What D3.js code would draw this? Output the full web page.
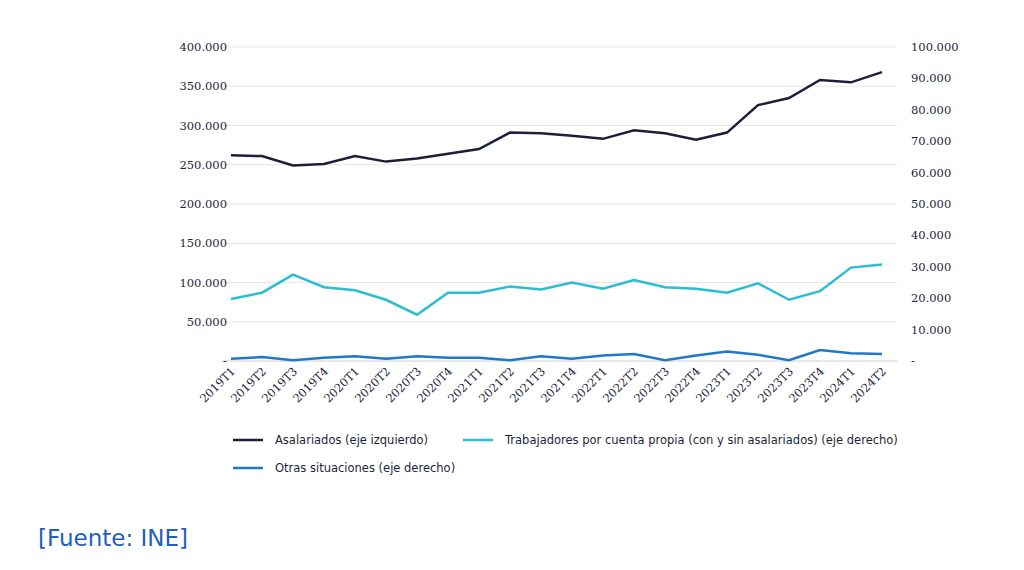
<!DOCTYPE html>
<html lang="es">
<head>
<meta charset="UTF-8">
<title>Ocupados</title>
<script src="https://cdn.jsdelivr.net/npm/d3@7"></script>
<style>
  body { margin: 0; background: #fff; font-family: "Liberation Serif", serif; }
  .lab { font-family: "DejaVu Serif", serif; font-size: 11.5px; fill: #1b1f3b; }
  .leg { font-family: "DejaVu Sans", sans-serif; font-size: 11.5px; fill: #1b1f3b; }
</style>
</head>
<body>
<svg id="c" width="1024" height="570"></svg>
<script>
var periods = ['2019T1','2019T2','2019T3','2019T4','2020T1','2020T2','2020T3','2020T4','2021T1','2021T2','2021T3','2021T4','2022T1','2022T2','2022T3','2022T4','2023T1','2023T2','2023T3','2023T4','2024T1','2024T2'];
// eje izquierdo
var asalariados = [262000,261000,249000,251000,261000,254000,258000,264000,270000,291000,290000,287000,283000,294000,290000,282000,291000,326000,335000,358000,355000,368000];
// eje derecho
var cuentaPropia = [19750,21750,27500,23500,22500,19500,14750,21750,21750,23750,22750,25000,23000,25750,23500,23000,21750,24750,19500,22250,29750,30750];
var otras = [750,1250,250,1000,1500,750,1500,1000,1000,250,1500,750,1750,2250,250,1750,3000,2000,250,3500,2500,2250];
var leftTicks = [0,50000,100000,150000,200000,250000,300000,350000,400000];
var rightTicks = [0,10000,20000,30000,40000,50000,60000,70000,80000,90000,100000];

var svg = d3.select('#c');
var x = d3.scalePoint().domain(periods).range([231, 882]);
var yL = d3.scaleLinear().domain([0, 400000]).range([361, 47]);
var yR = d3.scaleLinear().domain([0, 100000]).range([361, 47]);
var fmt = function (v) { return v === 0 ? '-' : d3.format(',')(v).replace(/,/g, '.'); };

svg.append('g').selectAll('line').data(leftTicks.slice(1)).join('line')
  .attr('x1', 222).attr('x2', 897)
  .attr('y1', function (d) { return yL(d); }).attr('y2', function (d) { return yL(d); })
  .attr('stroke', '#e6e6e6');
svg.append('line').attr('x1', 222).attr('x2', 897).attr('y1', yL(0)).attr('y2', yL(0)).attr('stroke', '#d0d0d0');

svg.append('g').selectAll('text').data(leftTicks).join('text').attr('class', 'lab')
  .attr('x', 227).attr('y', function (d) { return yL(d) + 4; }).attr('text-anchor', 'end').text(fmt);
svg.append('g').selectAll('text').data(rightTicks).join('text').attr('class', 'lab')
  .attr('x', 911).attr('y', function (d) { return yR(d) + 4; }).text(fmt);

svg.append('g').selectAll('text').data(periods).join('text').attr('class', 'lab')
  .attr('text-anchor', 'end')
  .attr('transform', function (d) { return 'translate(' + (x(d) + 5) + ',372) rotate(-45)'; })
  .text(function (d) { return d; });

function draw(vals, y, color) {
  svg.append('path').datum(vals)
    .attr('fill', 'none').attr('stroke', color).attr('stroke-width', 2.5)
    .attr('d', d3.line().x(function (d, i) { return x(periods[i]); }).y(function (d) { return y(d); }));
}
draw(otras, yR, '#1f78c8');
draw(cuentaPropia, yR, '#2bbdd1');
draw(asalariados, yL, '#1b1f3b');

var legend = [
  { t: 'Asalariados (eje izquierdo)', c: '#1b1f3b', x: 233, y: 440 },
  { t: 'Trabajadores por cuenta propia (con y sin asalariados) (eje derecho)', c: '#2bbdd1', x: 463, y: 440 },
  { t: 'Otras situaciones (eje derecho)', c: '#1f78c8', x: 233, y: 468 }
];
var lg = svg.append('g').selectAll('g').data(legend).join('g');
lg.append('line').attr('x1', function (d) { return d.x; }).attr('x2', function (d) { return d.x + 30; })
  .attr('y1', function (d) { return d.y; }).attr('y2', function (d) { return d.y; })
  .attr('stroke', function (d) { return d.c; }).attr('stroke-width', 2.5);
lg.append('text').attr('class', 'leg').attr('x', function (d) { return d.x + 42; })
  .attr('y', function (d) { return d.y + 4; }).text(function (d) { return d.t; });

svg.append('text').attr('x', 38).attr('y', 546).attr('fill', '#1f5fbf')
  .style('font-family', '"DejaVu Sans", sans-serif').style('font-size', '23px').text('[Fuente: INE]');
</script>
</body>
</html>
